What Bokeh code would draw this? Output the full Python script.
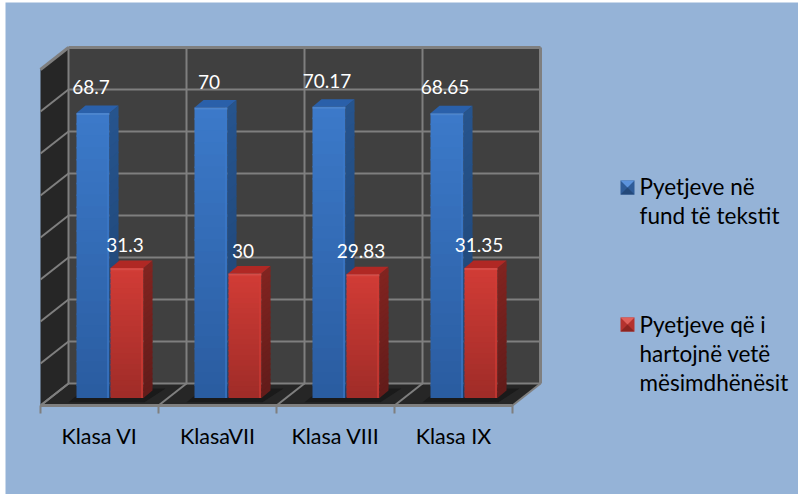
from bokeh.plotting import figure
from bokeh.embed import file_html
from bokeh.resources import INLINE
from bokeh.models import LinearAxis, FixedTicker, Range1d
from bokeh.core.properties import value

categories = ["Klasa VI", "KlasaVII", "Klasa VIII", "Klasa IX"]
series_blue = [68.7, 70, 70.17, 68.65]
series_red = [31.3, 30, 29.83, 31.35]
blue_labels = ["68.7", "70", "70.17", "68.65"]
red_labels = ["31.3", "30", "29.83", "31.35"]
legend_blue = ["Pyetjeve në", "fund të tekstit"]
legend_red = ["Pyetjeve që i", "hartojnë vetë", "mësimdhënësit"]
value_ticks = [0, 10, 20, 30, 40, 50, 60, 70, 80]

W, H = 798, 494
X0, Y0, CAT_W, UNIT = 40, 405, 118, 4.2   # pixel origin and scale of the chart


def px(x):
    return (x - X0) / CAT_W


def py(y):
    return (Y0 - y) / UNIT


p = figure(width=W, height=H, output_backend="svg", toolbar_location=None,
           x_range=Range1d(px(0), px(W)), y_range=Range1d(py(H), py(0)),
           min_border=0, outline_line_color=None, background_fill_color="white",
           border_fill_color="white")
p.xaxis.visible = False
p.yaxis.visible = False
p.xgrid.visible = False
p.ygrid.visible = False

# panel
p.quad(left=[px(5)], right=[px(W)], top=[py(2)], bottom=[py(H)],
       fill_color="#95B3D7", line_color=None)

n = len(categories)
DX, DY = 28 / CAT_W, 22 / UNIT
top = value_ticks[-1]
GRID = "#7F7F7F"

# walls and floor
p.patch([0, 0, DX, DX], [0, top, top + DY, DY], fill_color="#262626", line_color=None)
p.patch([DX, DX, n + DX, n + DX], [DY, top + DY, top + DY, DY], fill_color="#404040", line_color=None)
p.patch([0, n, n + DX, DX], [0, 0, DY, DY], fill_color="#262626", line_color=None)

# gridlines on back and side wall
for t in value_ticks:
    w = 3 if t == top else 2
    p.line([DX, n + DX], [t + DY, t + DY], line_color=GRID, line_width=w)
    p.line([0, DX], [t, t + DY], line_color=GRID, line_width=w)
for i in range(n + 1):
    p.line([i + DX, i + DX], [DY, top + DY], line_color=GRID, line_width=3 if i == n else 2)
    p.line([i, i + DX], [0, DY], line_color=GRID, line_width=2)

# bars
BAR_W, BAR_DX, BAR_DY = 33 / CAT_W, 9 / CAT_W, 7.5 / UNIT
BASE = 7.5 / UNIT
SHRINK = 0.988
STRIPS = 24
OVER = 0.35


def mix(a, b, f):
    return "#%02x%02x%02x" % tuple(round(a[k] + (b[k] - a[k]) * f) for k in range(3))


def bar(x, v, light, dark, side_l, side_d, top_c):
    h = v * SHRINK + BASE
    # strips are laid from the top down so that each covers the seam of the one above
    for s in range(STRIPS - 1, -1, -1):
        y0 = BASE + (h - BASE) * s / STRIPS
        y1 = min(h, BASE + (h - BASE) * (s + 1) / STRIPS + OVER)
        col = mix(dark, light, (s + 0.5) / STRIPS)
        p.quad(left=[x], right=[x + BAR_W], bottom=[y0], top=[y1], fill_color=col, line_color=None)
        sc = mix(side_d, side_l, (s + 0.5) / STRIPS)
        p.patch([x + BAR_W, x + BAR_W + BAR_DX, x + BAR_W + BAR_DX, x + BAR_W],
                [y0, y0 + BAR_DY, y1 + BAR_DY, y1], fill_color=sc, line_color=None)
    p.patch([x, x + BAR_W, x + BAR_W + BAR_DX, x + BAR_DX],
            [h, h, h + BAR_DY, h + BAR_DY], fill_color=top_c, line_color=None)
    # bevel highlights
    p.line([x + BAR_W - 1.5 / CAT_W] * 2, [BASE, h], line_color=mix(dark, light, 1.0), line_width=2, line_alpha=0.6)
    p.line([x, x + BAR_W], [h - 0.25, h - 0.25], line_color=mix(light, (255, 255, 255), 0.12), line_width=2, line_alpha=0.7)


# floor shadow
for i in range(n):
    x = i + 36 / CAT_W
    p.patch([x - 8 / CAT_W, x + 2 * BAR_W + 2 / CAT_W, x + 2 * BAR_W + BAR_DX + 14 / CAT_W, x + BAR_DX],
            [BASE - 1.0, BASE - 1.0, BASE + BAR_DY + 0.5, BASE + BAR_DY + 0.5],
            fill_color="#1A1A1A", line_color=None)

for i in range(n):
    x = i + 36 / CAT_W
    bar(x, series_blue[i], (60, 122, 202), (42, 92, 160), (38, 84, 142), (30, 66, 112), (42, 96, 170))
    bar(x + BAR_W + 1 / CAT_W, series_red[i], (210, 60, 54), (160, 44, 40), (130, 36, 32), (98, 28, 26), (176, 40, 36))

FONT = value("Lato")
LSIZE = "19px"

for i in range(n):
    x = i + 36 / CAT_W
    p.text([x + BAR_W / 2 - 2 / CAT_W], [series_blue[i] * SHRINK + BASE + 26 / UNIT], text=[blue_labels[i]],
           text_font=FONT, text_font_size=LSIZE, text_color="white", text_align="center", text_baseline="middle")
    p.text([x + 1.5 * BAR_W - 1 / CAT_W], [series_red[i] * SHRINK + BASE + 23 / UNIT], text=[red_labels[i]],
           text_font=FONT, text_font_size=LSIZE, text_color="white", text_align="center", text_baseline="middle")

# category axis on the floor edge
axis = LinearAxis(fixed_location=0, bounds=(0, n),
                  ticker=FixedTicker(ticks=[i + 0.5 for i in range(n)], minor_ticks=list(range(n + 1))),
                  major_label_overrides={i + 0.5: c for i, c in enumerate(categories)},
                  axis_line_color=GRID, axis_line_width=3,
                  major_tick_line_color=None, major_tick_out=0, major_tick_in=0,
                  minor_tick_line_color=GRID, minor_tick_line_width=2, minor_tick_out=8, minor_tick_in=0,
                  major_label_standoff=9, major_label_text_font="Lato", major_label_text_font_size="21.5px",
                  major_label_text_color="#000000")
p.add_layout(axis, "below")


# legend
def swatch(xp, yp, base, hi, lo):
    xs, xe = px(xp), px(xp + 14)
    ys, ye = py(yp), py(yp + 14)
    xm, ym = (xs + xe) / 2, (ys + ye) / 2
    p.quad(left=[xs], right=[xe], top=[ys], bottom=[ye], fill_color=base, line_color=None)
    p.patch([xs, xe, xm], [ys, ys, ym], fill_color=hi, line_color=None)
    p.patch([xs, xe, xm], [ye, ye, ym], fill_color=lo, line_color=None)


swatch(620, 180, "#2F5C98", "#5C93DC", "#24497A")
swatch(620, 317, "#B5322E", "#E0605A", "#8C2420")

for lines, baselines in ((legend_blue, [186, 215]), (legend_red, [324, 353, 382])):
    for t, b in zip(lines, baselines):
        p.text([px(639)], [py(b)], text=[t], text_font=FONT, text_font_size="22.5px",
               text_color="#000000", text_align="left", text_baseline="alphabetic")

open("out.html", "w").write(file_html(p, INLINE))
